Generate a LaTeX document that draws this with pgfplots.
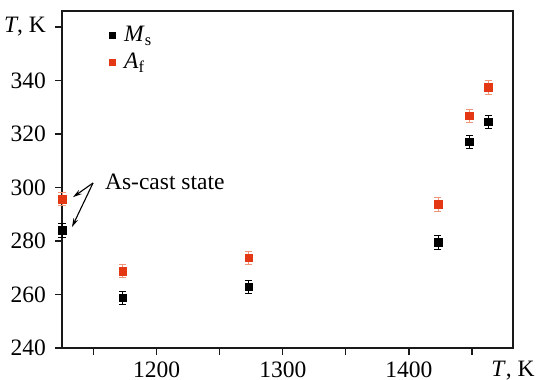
\documentclass[border=0pt]{standalone}
\usepackage{fontspec}
\setmainfont{Liberation Serif}
\usepackage{pgfplots}
\pgfplotsset{compat=1.18}
\usetikzlibrary{arrows.meta}
\definecolor{redm}{RGB}{228,56,20}
\definecolor{rederr}{RGB}{240,150,120}
\begin{document}
\fontsize{23.5bp}{28bp}\selectfont
\begin{tikzpicture}
\begin{axis}[
  scale only axis,
  width=451bp, height=337bp,
  at={(62bp,32bp)}, anchor=south west,
  xmin=1125, xmax=1482.5, ymin=240, ymax=366,
  axis line style={line width=1.3bp, black!90},
  tick align=outside, xtick pos=lower, ytick pos=left,
  major tick length=7bp,
  tick style={line width=1.3bp, black!90},
  xtick={1150,1200,1250,1300,1350,1400,1450},
  xticklabels={,1200,,1300,,1400,},
  ytick={240,260,280,300,320,340,360},
  yticklabels={240,260,280,300,320,340,{\textit{T}, K}},
  extra x ticks={1482.5},
  extra x tick labels={\textit{T}{,} K},
  extra x tick style={major tick length=0pt, xticklabel style={yshift=-6bp}},
  xticklabel style={inner sep=0pt, yshift=-6.8bp},
  yticklabel style={xshift=-1bp},
  clip=false,
  legend style={draw=none, fill=none, at={(44bp,324bp)}, anchor=north west,
    row sep=4bp, inner sep=0pt, nodes={inner sep=2bp}},
  legend cell align=left,
  legend image code/.code={\draw plot coordinates {(0.2cm,0cm)}; \path (0cm,0cm) (0.55cm,0cm);},
  legend image post style={mark size=3bp},
]
\addplot+[only marks, mark=square*, mark size=3.8bp, black, mark options={black, fill=black},
  error bars/.cd, y dir=both, y explicit, error mark options={rotate=90, mark size=3.5bp, black, line width=0.7bp},
  error bar style={black, line width=0.7bp}]
  coordinates {
  (1125,284) +- (0,2.5)
  (1173,258.8) +- (0,2.5)
  (1273,262.9) +- (0,2.5)
  (1423,279.5) +- (0,2.5)
  (1448,317.1) +- (0,2.5)
  (1463,324.6) +- (0,2.5)
  };
\addlegendentry{\textit{M}\textsubscript{s}}
\addplot+[only marks, mark=square*, mark size=3.8bp, redm, mark options={redm, fill=redm},
  error bars/.cd, y dir=both, y explicit, error mark options={rotate=90, mark size=3.5bp, rederr, line width=0.7bp},
  error bar style={rederr, line width=0.7bp}]
  coordinates {
  (1125,295.7) +- (0,2.5)
  (1173,268.8) +- (0,2.5)
  (1273,273.8) +- (0,2.5)
  (1423,293.7) +- (0,2.5)
  (1448,326.8) +- (0,2.5)
  (1463,337.5) +- (0,2.5)
  };
\addlegendentry{\textit{A}\textsubscript{f}}
\node[anchor=west, inner sep=0pt] at (axis cs:1159,302) {As-cast state};
\draw[-{Stealth[length=9bp,width=5bp]}, line width=1.1bp] (axis cs:1149.6,301.7) -- (axis cs:1133.7,296.4);
\draw[-{Stealth[length=9bp,width=5bp]}, line width=1.1bp] (axis cs:1149.6,301.7) -- (axis cs:1132.9,285.2);
\end{axis}
\pgfresetboundingbox
\path (0,0) rectangle (537bp,380bp);
\end{tikzpicture}
\end{document}
